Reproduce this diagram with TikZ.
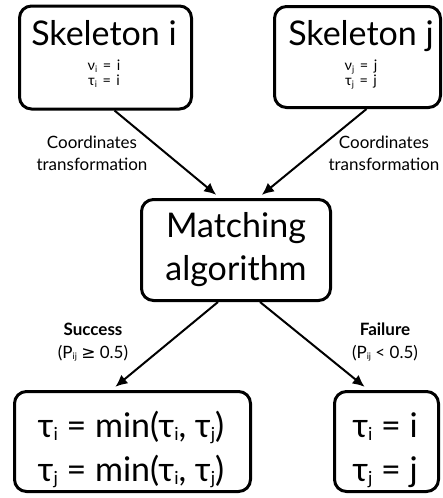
\documentclass[tikz,border=0pt]{standalone}
\usepackage{fontspec}
\setmainfont{Lato}
\newfontfamily\symfont{DejaVu Sans}
\usetikzlibrary{arrows.meta}
\tikzset{
  box/.style={draw, line width=3pt, rounded corners=12pt, inner sep=0pt},
  lbl/.style={anchor=base, inner sep=0pt},
  arr/.style={line width=2pt, -{Latex[length=12pt,width=11pt]}, shorten >=5pt},
}
\newcommand{\fbig}{\fontsize{34}{40}\selectfont}
\newcommand{\fsml}{\fontsize{14.5}{16}\selectfont}
\newcommand{\fmid}{\fontsize{17}{20}\selectfont}
\newcommand{\feq}{\fontsize{34}{40}\selectfont}
\newcommand{\bsub}[1]{\raisebox{-3pt}{\fontsize{18}{18}\selectfont #1}}
\newcommand{\ssub}[1]{\raisebox{-1.5pt}{\fontsize{9}{9}\selectfont #1}}
\newcommand{\wsp}{\hspace{0.38em}}
\begin{document}
\begin{tikzpicture}[x=1pt,y=-1pt]
\useasboundingbox (0,0) rectangle (442,498);
% boxes
\node[box, minimum width=172pt, minimum height=103pt] (ski) at (105.5,57.5) {};
\node[box, minimum width=166pt, minimum height=101pt] (skj) at (357.5,57) {};
\node[box, minimum width=189pt, minimum height=101pt] (match) at (236,250) {};
\node[box, minimum width=236pt, minimum height=100pt] (succ) at (132.5,441.5) {};
\node[box, minimum width=104pt, minimum height=100pt] (fail) at (386.5,441.5) {};
% texts in skeleton boxes
\node[lbl] (tski) at (104,45) {\fbig Skeleton i};
\node[lbl] (nui) at (104,70.5) {\fsml ν\ssub{i}\wsp=\wsp i};
\node[lbl] (taui) at (104,85.5) {\fsml τ\ssub{i}\wsp=\wsp i};
\node[lbl] (tskj) at (361,45) {\fbig Skeleton j};
\node[lbl] (nuj) at (361,70.5) {\fsml ν\ssub{j}\wsp=\wsp j};
\node[lbl] (tauj) at (361,85.5) {\fsml τ\ssub{j}\wsp=\wsp j};
% coordinates labels
\node[lbl] (c1a) at (92,148) {\fmid Coordinates};
\node[lbl] (c1b) at (92,170) {\fmid transformation};
\node[lbl] (c2a) at (384,148) {\fmid Coordinates};
\node[lbl] (c2b) at (384,170) {\fmid transformation};
% matching
\node[lbl] (m1) at (236,237) {\fbig Matching};
\node[lbl] (m2) at (236,280) {\fbig algorithm};
% branch labels
\node[lbl] (s1) at (93,335) {\fmid\bfseries Success};
\node[lbl] (s2) at (93,358) {\fmid (P\ssub{ij} {\symfont ≥} 0.5)};
\node[lbl] (f1) at (385,335) {\fmid\bfseries Failure};
\node[lbl] (f2) at (385,358) {\fmid (P\ssub{ij} < 0.5)};
% results
\node[lbl] (r1) at (131,437) {\feq τ\bsub{i} = min(τ\bsub{i}, τ\bsub{j})};
\node[lbl] (r2) at (131,481) {\feq τ\bsub{j} = min(τ\bsub{i}, τ\bsub{j})};
\node[lbl] (r3) at (385,437) {\feq τ\bsub{i} = i};
\node[lbl] (r4) at (385,481) {\feq τ\bsub{j} = j};
% arrows
\draw[arr] ([xshift=9pt]ski.south) -- ([xshift=-16pt,yshift=0pt]match.north);
\draw[arr] ([xshift=9pt]skj.south) -- ([xshift=22pt]match.north);
\draw[arr] ([xshift=-18pt]match.south) -- ([xshift=-21pt]succ.north);
\draw[arr] ([xshift=24pt]match.south) -- ([xshift=-18pt]fail.north);
\end{tikzpicture}
\end{document}
